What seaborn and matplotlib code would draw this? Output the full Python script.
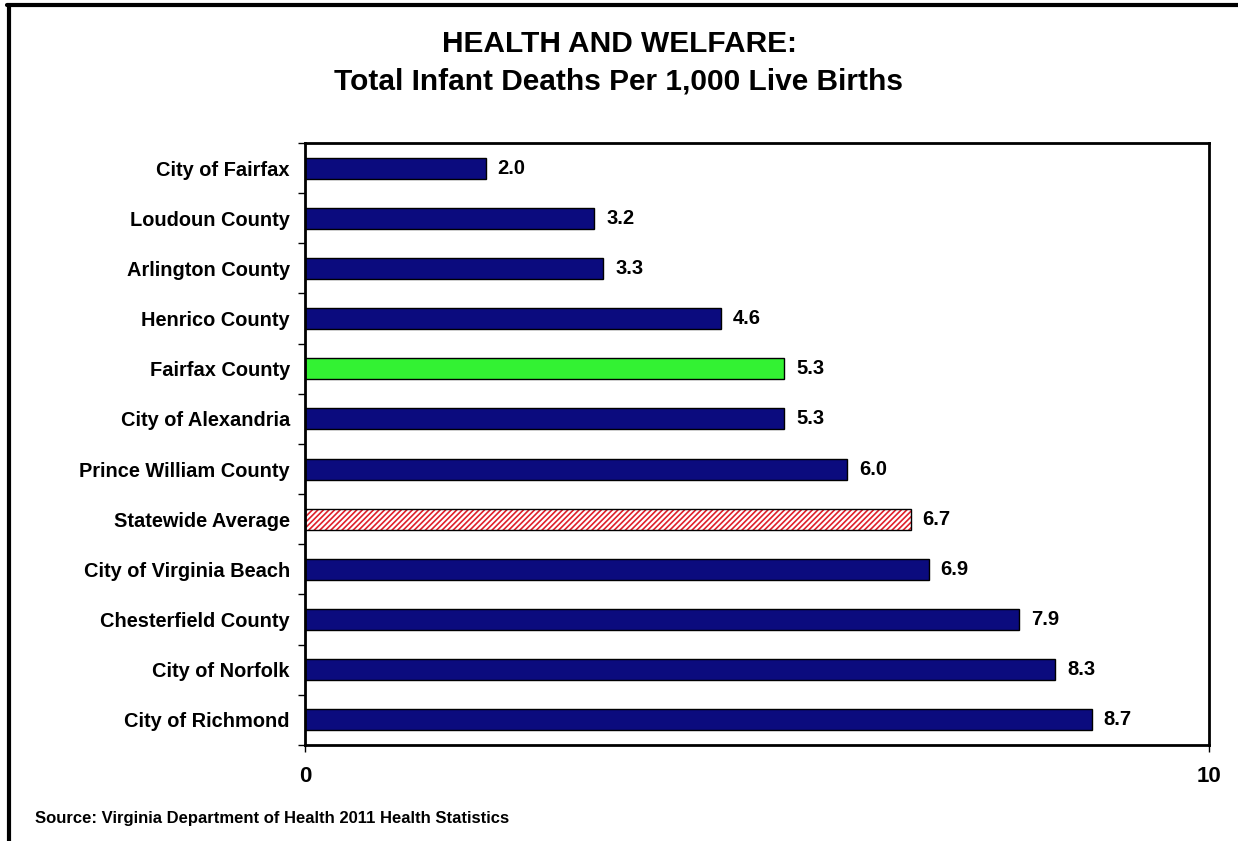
import numpy as np
import pandas as pd
import matplotlib.pyplot as plt
import matplotlib.lines as mlines
import matplotlib.patches as mpatches
import seaborn as sns

# Chart data
places = ['City of Fairfax', 'Loudoun County', 'Arlington County', 'Henrico County',
          'Fairfax County', 'City of Alexandria', 'Prince William County',
          'Statewide Average', 'City of Virginia Beach', 'Chesterfield County',
          'City of Norfolk', 'City of Richmond']
deaths = [2.0, 3.2, 3.3, 4.6, 5.3, 5.3, 6.0, 6.7, 6.9, 7.9, 8.3, 8.7]
x_ticks = [0, 10]

navy = '#0b0b7e'
green = '#33f233'
bar_colors = {p: navy for p in places}
bar_colors['Fairfax County'] = green
bar_colors['Statewide Average'] = 'white'

df = pd.DataFrame({'place': places, 'deaths': deaths})

sns.set_style('white')
plt.rcParams['font.family'] = ['Liberation Sans', 'DejaVu Sans']
plt.rcParams['font.stretch'] = 'condensed'
plt.rcParams['text.color'] = 'black'
plt.rcParams['xtick.color'] = 'black'
plt.rcParams['ytick.color'] = 'black'
plt.rcParams['hatch.linewidth'] = 1.2

fig = plt.figure(figsize=(12.38, 8.41), dpi=100)
ax = fig.add_axes([0.2464, 0.1142, 0.7302, 0.7158])

sns.barplot(data=df, x='deaths', y='place', hue='place', palette=bar_colors,
            saturation=1, legend=False, width=0.42, edgecolor='black', linewidth=1, ax=ax)

# hatched statewide bar: red hatch, black outline
for patch, name in zip(list(ax.patches), places):
    if name == 'Statewide Average':
        patch.set_edgecolor('#e0202a')
        patch.set_hatch('//////')
        patch.set_linewidth(0)
        ax.add_patch(mpatches.Rectangle(patch.get_xy(), patch.get_width(), patch.get_height(),
                                        fill=False, edgecolor='black', linewidth=1, zorder=3))

for patch, v in zip(ax.patches[:len(places)], deaths):
    ax.text(patch.get_width() + 0.13, patch.get_y() + patch.get_height() / 2, f'{v:.1f}',
            va='center', ha='left', fontsize=14.5, fontweight='bold', fontstretch='normal')

ax.set_xlim(0, 10)
ax.set_ylim(len(places) - 0.5, -0.5)
ax.set_xticks(x_ticks)
ax.set_xticklabels([str(t) for t in x_ticks], fontsize=16, fontweight='bold')
ax.tick_params(axis='x', length=5, width=1, pad=10, direction='out', bottom=True)
ax.tick_params(axis='y', length=0, pad=11, labelsize=14.4)
for lbl in ax.get_yticklabels():
    lbl.set_fontweight('bold')
ax.set_yticks(np.arange(len(places) + 1) - 0.5, minor=True)
ax.tick_params(axis='y', which='minor', length=5, width=1, left=True)
ax.set_xlabel('')
ax.set_ylabel('')
for s in ax.spines.values():
    s.set_visible(True)
    s.set_color('black')
    s.set_linewidth(2)

fig.text(0.5, 0.948, 'HEALTH AND WELFARE:', ha='center', va='center',
         fontsize=21.5, fontweight='bold')
fig.text(0.5, 0.903, 'Total Infant Deaths Per 1,000 Live Births', ha='center', va='center',
         fontsize=21.5, fontweight='bold')
fig.text(0.028, 0.027, 'Source: Virginia Department of Health 2011 Health Statistics',
         ha='left', va='center', fontsize=12, fontweight='bold')

# page border (top and left)
fig.add_artist(mlines.Line2D([0.006, 1.0], [0.994, 0.994], color='black', linewidth=3,
                             transform=fig.transFigure))
fig.add_artist(mlines.Line2D([0.007, 0.007], [0.0, 0.994], color='black', linewidth=3,
                             transform=fig.transFigure))

fig.savefig('out.png', dpi=100)
